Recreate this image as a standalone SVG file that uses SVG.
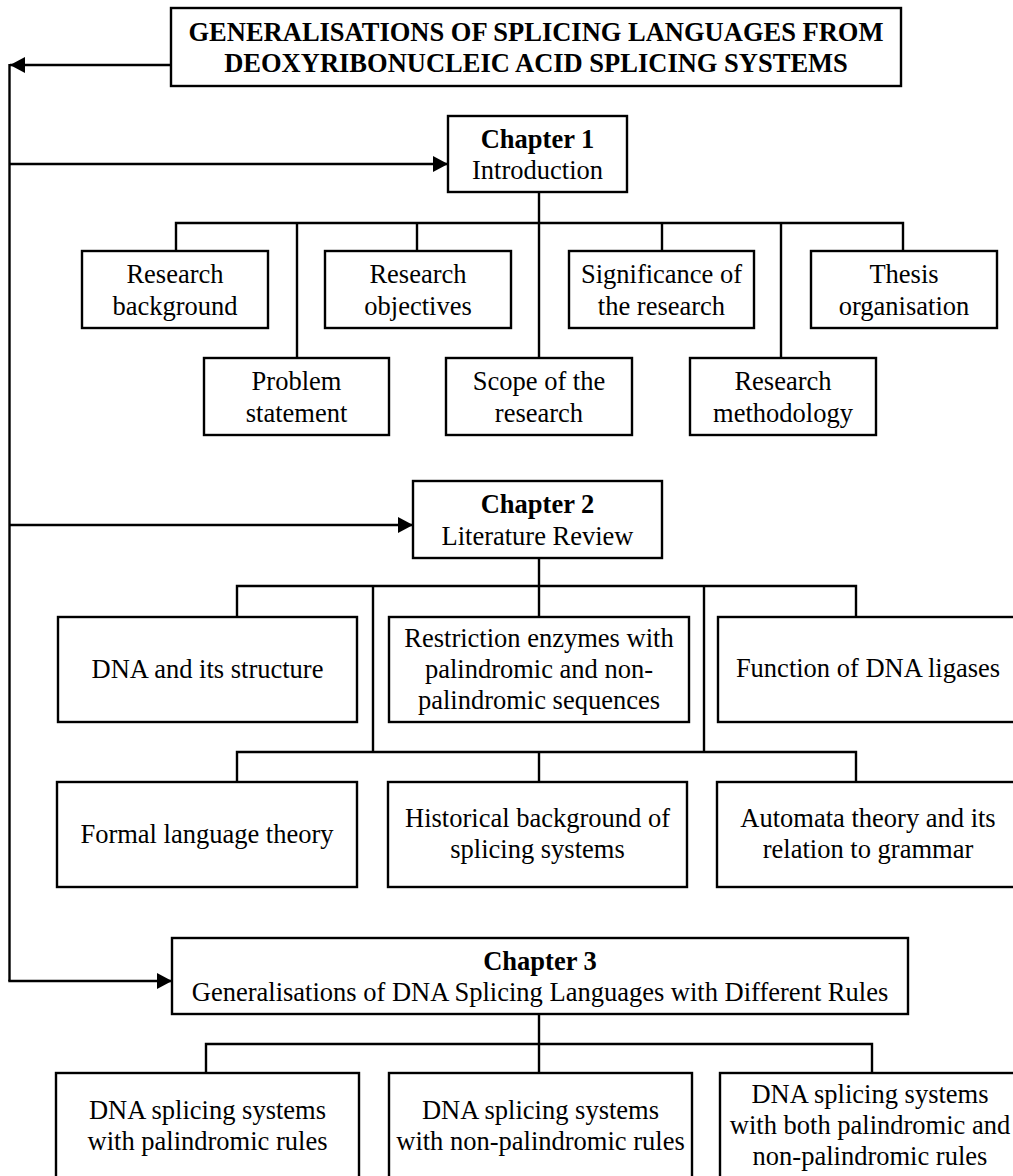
<svg xmlns="http://www.w3.org/2000/svg" width="1013" height="1176" viewBox="0 0 1013 1176">
<style>
.box{fill:#fff;stroke:#000;stroke-width:2.4}
.t{font-family:"Liberation Serif","Times New Roman",serif;font-size:26.5px;fill:#000;text-anchor:middle}
.b{font-weight:bold}
.c{fill:none;stroke:#000;stroke-width:2.4}
</style>
<defs>
<marker id="ah" markerUnits="userSpaceOnUse" markerWidth="15" markerHeight="16" refX="15" refY="8" orient="auto">
<path d="M0,0 L15,8 L0,16 z" fill="#000"/>
</marker>
</defs>
<rect width="1013" height="1176" fill="#fff"/>
<g id="connectors">
<polyline class="c" points="171,65 10,65" marker-end="url(#ah)"/>
<line class="c" x1="9.5" y1="64" x2="9.5" y2="981"/>
<line class="c" x1="9.5" y1="164" x2="448" y2="164" marker-end="url(#ah)"/>
<line class="c" x1="9.5" y1="525" x2="413" y2="525" marker-end="url(#ah)"/>
<line class="c" x1="8.3" y1="981" x2="172" y2="981" marker-end="url(#ah)"/>
<!-- Chapter 1 -->
<line class="c" x1="539" y1="192" x2="539" y2="358"/>
<polyline class="c" points="176,251 176,223 903,223 903,251"/>
<line class="c" x1="297" y1="223" x2="297" y2="358"/>
<line class="c" x1="417" y1="223" x2="417" y2="251"/>
<line class="c" x1="662" y1="223" x2="662" y2="251"/>
<line class="c" x1="781" y1="223" x2="781" y2="358"/>
<!-- Chapter 2 -->
<line class="c" x1="539" y1="558" x2="539" y2="617"/>
<polyline class="c" points="237,617 237,586 856,586 856,617"/>
<line class="c" x1="373" y1="586" x2="373" y2="752"/>
<line class="c" x1="704" y1="586" x2="704" y2="752"/>
<polyline class="c" points="237,782 237,752 856,752 856,782"/>
<line class="c" x1="539" y1="752" x2="539" y2="782"/>
<!-- Chapter 3 -->
<line class="c" x1="539" y1="1014" x2="539" y2="1073"/>
<polyline class="c" points="206,1073 206,1044 872,1044 872,1073"/>
</g>
<g id="title">
<rect class="box" x="171" y="8" width="730" height="78"/>
<text class="t b" x="536" y="41">GENERALISATIONS OF SPLICING LANGUAGES FROM</text>
<text class="t b" x="536" y="72">DEOXYRIBONUCLEIC ACID SPLICING SYSTEMS</text>
</g>
<g id="chapter1">
<rect class="box" x="448" y="116" width="179" height="76"/>
<text class="t b" x="537.5" y="148">Chapter 1</text>
<text class="t" x="537.5" y="179">Introduction</text>
</g>
<g id="research-background">
<rect class="box" x="82" y="251" width="186" height="77"/>
<text class="t" x="175" y="283">Research</text>
<text class="t" x="175" y="315">background</text>
</g>
<g id="research-objectives">
<rect class="box" x="325" y="251" width="186" height="77"/>
<text class="t" x="418" y="283">Research</text>
<text class="t" x="418" y="315">objectives</text>
</g>
<g id="significance">
<rect class="box" x="569" y="251" width="185" height="77"/>
<text class="t" x="661.5" y="283">Significance of</text>
<text class="t" x="661.5" y="315">the research</text>
</g>
<g id="thesis-organisation">
<rect class="box" x="811" y="251" width="186" height="77"/>
<text class="t" x="904" y="283">Thesis</text>
<text class="t" x="904" y="315">organisation</text>
</g>
<g id="problem-statement">
<rect class="box" x="204" y="358" width="185" height="77"/>
<text class="t" x="296.5" y="390">Problem</text>
<text class="t" x="296.5" y="422">statement</text>
</g>
<g id="scope">
<rect class="box" x="446" y="358" width="186" height="77"/>
<text class="t" x="539" y="390">Scope of the</text>
<text class="t" x="539" y="422">research</text>
</g>
<g id="methodology">
<rect class="box" x="690" y="358" width="186" height="77"/>
<text class="t" x="783" y="390">Research</text>
<text class="t" x="783" y="422">methodology</text>
</g>
<g id="chapter2">
<rect class="box" x="413" y="481" width="249" height="77"/>
<text class="t b" x="537.5" y="513">Chapter 2</text>
<text class="t" x="537.5" y="545">Literature Review</text>
</g>
<g id="dna-structure">
<rect class="box" x="58" y="617" width="299" height="105"/>
<text class="t" x="207.5" y="678">DNA and its structure</text>
</g>
<g id="restriction-enzymes">
<rect class="box" x="389" y="617" width="300" height="105"/>
<text class="t" x="539" y="647">Restriction enzymes with</text>
<text class="t" x="539" y="678">palindromic and non-</text>
<text class="t" x="539" y="709">palindromic sequences</text>
</g>
<g id="dna-ligases">
<rect class="box" x="718" y="617" width="302" height="105"/>
<text class="t" x="868" y="677">Function of DNA ligases</text>
</g>
<g id="formal-language">
<rect class="box" x="57" y="782" width="300" height="105"/>
<text class="t" x="207" y="843">Formal language theory</text>
</g>
<g id="historical-background">
<rect class="box" x="388" y="782" width="299" height="105"/>
<text class="t" x="537.5" y="827">Historical background of</text>
<text class="t" x="537.5" y="858">splicing systems</text>
</g>
<g id="automata-theory">
<rect class="box" x="717" y="782" width="303" height="105"/>
<text class="t" x="868" y="827">Automata theory and its</text>
<text class="t" x="868" y="858">relation to grammar</text>
</g>
<g id="chapter3">
<rect class="box" x="172" y="938" width="736" height="76"/>
<text class="t b" x="540" y="970">Chapter 3</text>
<text class="t" x="540" y="1001">Generalisations of DNA Splicing Languages with Different Rules</text>
</g>
<g id="palindromic-rules">
<rect class="box" x="56" y="1073" width="303" height="120"/>
<text class="t" x="207.5" y="1119">DNA splicing systems</text>
<text class="t" x="207.5" y="1150">with palindromic rules</text>
</g>
<g id="non-palindromic-rules">
<rect class="box" x="389" y="1073" width="303" height="120"/>
<text class="t" x="540.5" y="1119">DNA splicing systems</text>
<text class="t" x="540.5" y="1150">with non-palindromic rules</text>
</g>
<g id="both-rules">
<rect class="box" x="720" y="1073" width="300" height="120"/>
<text class="t" x="870" y="1103">DNA splicing systems</text>
<text class="t" x="870" y="1134">with both palindromic and</text>
<text class="t" x="870" y="1165">non-palindromic rules</text>
</g>
</svg>
